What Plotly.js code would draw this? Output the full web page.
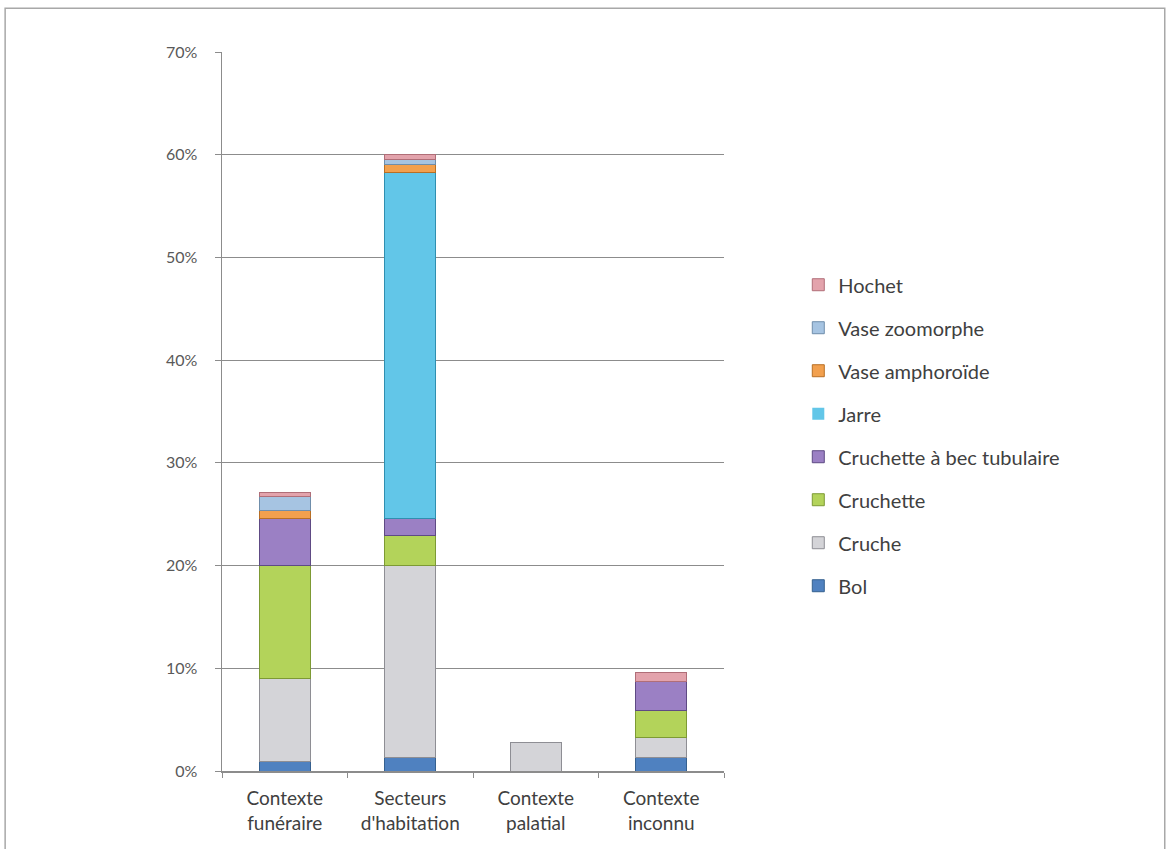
<!DOCTYPE html>
<html>
<head>
<meta charset="utf-8">
<script src="https://cdn.plot.ly/plotly-3.0.1.min.js"></script>
<style>html,body{margin:0;padding:0;background:#fff;}#chart{width:1171px;height:849px;}</style>
</head>
<body>
<div id="chart"></div>
<script>
const categories = ["Contexte<br>funéraire", "Secteurs<br>d'habitation", "Contexte<br>palatial", "Contexte<br>inconnu"];
const seriesNames = ["Bol", "Cruche", "Cruchette", "Cruchette à bec tubulaire", "Jarre", "Vase amphoroïde", "Vase zoomorphe", "Hochet"];
const bol = [0.9, 1.3, 0, 1.3];
const cruche = [8.1, 18.7, 2.8, 2.0];
const cruchette = [11.0, 2.9, 0, 2.6];
const cruchetteBec = [4.6, 1.7, 0, 2.8];
const jarre = [0, 33.7, 0, 0];
const vaseAmphoroide = [0.8, 0.7, 0, 0];
const vaseZoomorphe = [1.3, 0.5, 0, 0];
const hochet = [0.4, 0.5, 0, 0.9];
const tickValues = [0, 10, 20, 30, 40, 50, 60, 70];
const tickLabels = ["0%", "10%", "20%", "30%", "40%", "50%", "60%", "70%"];

const seriesData = [bol, cruche, cruchette, cruchetteBec, jarre, vaseAmphoroide, vaseZoomorphe, hochet];
const fills = ["#4f81c0", "#d4d4d8", "#b3d35a", "#9b80c4", "#62c6e8", "#f2a04e", "#a6c4e2", "#e3a3ac"];
const edges = ["#35608f", "#8e8e94", "#7d9a34", "#5e4a84", "#2f8fb0", "#b86f24", "#6f8eab", "#b06e78"];

const traces = seriesNames.map((n, i) => ({
  type: "bar",
  name: n,
  x: categories,
  y: seriesData[i],
  legendgroup: "g" + i,
  legendrank: 100 - i,
  marker: {
    color: fills[i],
    line: {color: edges[i], width: seriesData[i].map(v => v > 0 ? 1 : 0)}
  },
  hoverinfo: "name+y"
}));

const layout = {
  width: 1171, height: 849,
  paper_bgcolor: "#ffffff", plot_bgcolor: "#ffffff",
  margin: {l: 222, r: 447, t: 52, b: 78},
  barmode: "stack",
  bargap: 0.59,
  font: {family: "Lato, 'Open Sans', sans-serif", size: 14, color: "#404040"},
  showlegend: true,
  legend: {
    x: 1.148, y: 0.467, xanchor: "left", yanchor: "middle",
    traceorder: "grouped", tracegroupgap: 14,
    font: {size: 20, color: "#404040"},
    itemwidth: 30
  },
  xaxis: {
    type: "category",
    showline: true, linecolor: "#8c8c8c", linewidth: 1.5,
    ticks: "outside", tickson: "boundaries", ticklen: 5, tickcolor: "#8c8c8c",
    tickfont: {size: 19, color: "#404040"},
    ticklabelstandoff: 10,
    showgrid: false, zeroline: false, fixedrange: true
  },
  yaxis: {
    range: [0, 70], tickmode: "array", tickvals: tickValues, ticktext: tickLabels,
    showline: true, linecolor: "#8c8c8c", linewidth: 1.5,
    ticks: "outside", ticklen: 6, tickcolor: "#8c8c8c",
    showgrid: true, gridcolor: "#8c8c8c", gridwidth: 1,
    zeroline: false,
    tickfont: {size: 16, color: "#595959"},
    ticklabelstandoff: 14, fixedrange: true
  },
  shapes: [{
    type: "rect", xref: "paper", yref: "paper",
    x0: -0.432, x1: 1.878, y0: -0.2, y1: 1.061,
    line: {color: "#a8a8a8", width: 1.5}, fillcolor: "rgba(0,0,0,0)", layer: "below"
  }]
};

Plotly.newPlot("chart", traces, layout, {displayModeBar: false, staticPlot: true});
</script>
</body>
</html>
